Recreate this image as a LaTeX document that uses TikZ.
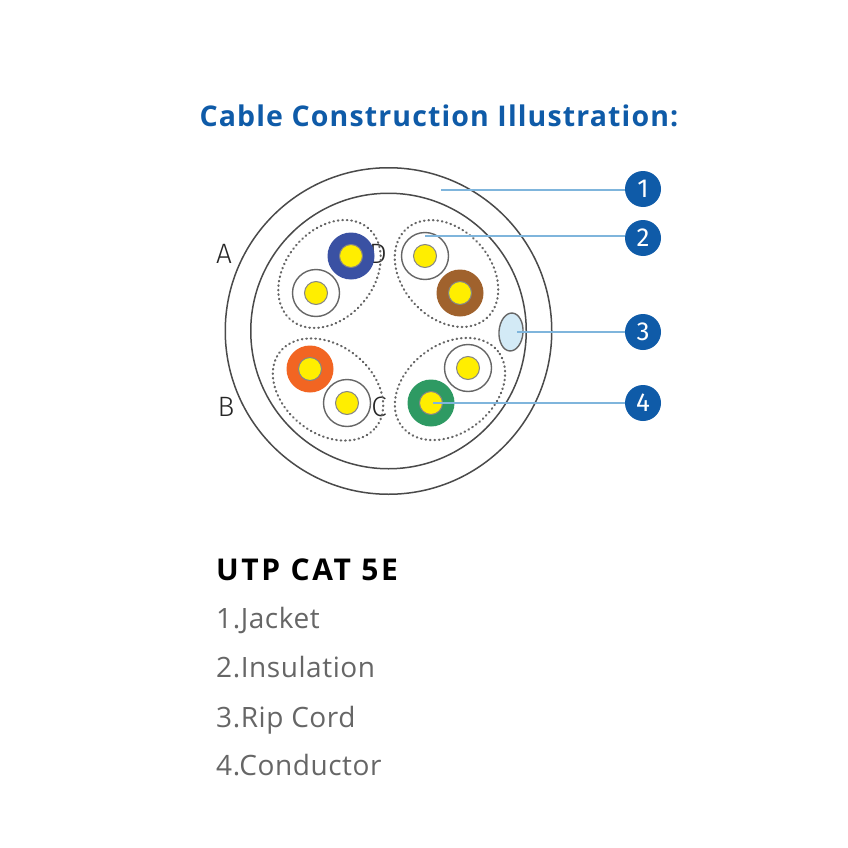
\documentclass[tikz,border=0pt]{standalone}
\usepackage{fontspec}
\setmainfont{Open Sans}
\newfontfamily\badgefont{Fira Sans}
\newfontfamily\titlefont[LetterSpace=4,Ligatures=NoCommon]{Open Sans}
\newfontfamily\headfont[LetterSpace=8.7,Ligatures=NoCommon]{Open Sans}
\newfontfamily\listfont[LetterSpace=2,Ligatures=NoCommon]{Open Sans}
\newfontfamily\pairfont{Fira Sans Light}
\usetikzlibrary{shapes.geometric}
\definecolor{badgeblue}{HTML}{0F5BA8}
\definecolor{leader}{HTML}{7FB5DC}
\definecolor{ringgray}{HTML}{4A4A4A}
\definecolor{wiregray}{HTML}{666666}
\definecolor{listgray}{HTML}{666666}
\definecolor{corefill}{HTML}{FFEE00}
\definecolor{wblue}{HTML}{3A51A3}
\definecolor{wbrown}{HTML}{A0622D}
\definecolor{worange}{HTML}{F26522}
\definecolor{wgreen}{HTML}{2E9A63}
\definecolor{cordfill}{HTML}{D3EAF6}
\tikzset{
  x=1pt,y=-1pt,
  ring/.style={circle,draw=ringgray,line width=1.5pt,fill=none,inner sep=0,minimum size=#1},
  pairloop/.style={draw=wiregray,line width=2.2pt,dash pattern=on 0.6pt off 3.9pt,line cap=round},
  insul/.style={circle,inner sep=0,minimum size=47pt,fill=#1},
  whiteinsul/.style={circle,inner sep=0,minimum size=47pt,fill=white,draw=wiregray,line width=1.4pt},
  core/.style={circle,inner sep=0,minimum size=23pt,fill=corefill,draw=wiregray!80,line width=1pt},
  badge/.style={circle,inner sep=0,minimum size=36pt,fill=badgeblue,text=white,font=\fontsize{26}{26}\selectfont\badgefont},
  leaderline/.style={draw=leader,line width=1.5pt},
  pairlabel/.style={inner sep=0,text=black!85,font=\fontsize{28}{28}\selectfont\pairfont},
  listitem/.style={anchor=base west,inner sep=0,text=listgray,font=\fontsize{28}{30}\selectfont\listfont},
}
\begin{document}
\begin{tikzpicture}
\useasboundingbox (0,0) rectangle (848,848);
\fill[white] (0,0) rectangle (848,848);
\node[inner sep=0,text=badgeblue,font=\fontsize{28.5}{32}\selectfont\titlefont\bfseries] (title) at (439,116) {Cable Construction Illustration:};
\node[ring=326.5pt] (outer) at (388.5,331) {};
\node[ring=275.5pt] (inner) at (388.5,331) {};
\node[pairlabel] (labA) at (224,254) {A};
\node[pairlabel] (labB) at (226,407) {B};
\node[pairlabel] (labC) at (379,407) {C};
\node[pairlabel] (labD) at (378,254) {D};
\draw[pairloop,shift={(329.5,274)},rotate=50] (0,0) ellipse [x radius=60pt,y radius=44pt];
\draw[pairloop,shift={(446.5,273.5)},rotate=-48] (0,0) ellipse [x radius=60pt,y radius=44pt];
\draw[pairloop,shift={(328,389.5)},rotate=-38] (0,0) ellipse [x radius=61pt,y radius=44pt];
\draw[pairloop,shift={(450,389)},rotate=38] (0,0) ellipse [x radius=61pt,y radius=44pt];
\node[insul=wblue] (wa) at (351,256) {};
\node[core] (ca) at (351,256) {};
\node[whiteinsul] (wb) at (316,293) {};
\node[core] (cb) at (316,293) {};
\node[whiteinsul] (wc) at (425,256) {};
\node[core] (cc) at (425,256) {};
\node[insul=wbrown] (wd) at (460,293) {};
\node[core] (cd) at (460,293) {};
\node[insul=worange] (we) at (310,369) {};
\node[core] (ce) at (310,369) {};
\node[whiteinsul] (wf) at (347,403) {};
\node[core] (cf) at (347,403) {};
\node[whiteinsul] (wg) at (468,368) {};
\node[core] (cg) at (468,368) {};
\node[insul=wgreen] (wh) at (431,403) {};
\node[core] (ch) at (431,403) {};
\node[ellipse,draw=wiregray,fill=cordfill,line width=1.4pt,inner sep=0,minimum width=24pt,minimum height=38pt,rotate=-4] (cord) at (511,332) {};
\node[badge] (b1) at (643,189) {1};
\node[badge] (b2) at (643,238) {2};
\node[badge] (b3) at (643,332) {3};
\node[badge] (b4) at (643,403) {4};
\coordinate (e1) at (441,190);
\coordinate (e2) at (425,236);
\coordinate (e3) at (517,332);
\coordinate (e4) at (433,403);
\draw[leaderline] (e1) -- (e1 -| b1.west);
\draw[leaderline] (e2) -- (e2 -| b2.west);
\draw[leaderline] (e3) -- (b3.west);
\draw[leaderline] (e4) -- (b4.west);
\node[anchor=base west,inner sep=0,text=black,font=\fontsize{30}{32}\selectfont\headfont\bfseries] (head) at (216,580) {UTP CAT 5E};
\node[listitem] (i1) at (216,628) {1.Jacket};
\node[listitem] (i2) at (216,677) {2.Insulation};
\node[listitem] (i3) at (216,727) {3.Rip Cord};
\node[listitem] (i4) at (216,775) {4.Conductor};
\end{tikzpicture}
\end{document}
